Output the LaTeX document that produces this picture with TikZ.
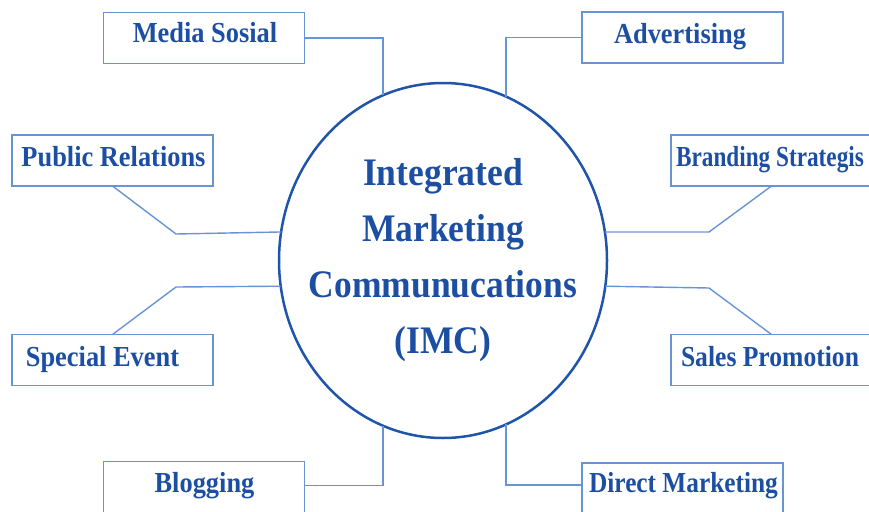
\documentclass[tikz,border=0pt]{standalone}
\usepackage{fontspec}
\setmainfont{Liberation Serif}[FakeStretch=0.91]
\usetikzlibrary{shapes.geometric}

\definecolor{inkblue}{RGB}{28,78,162}
\definecolor{frameblue}{RGB}{104,148,214}
\definecolor{ringblue}{RGB}{30,84,170}

\begin{document}
\begin{tikzpicture}[x=1pt,y=-1pt,
  itembox/.style={draw=frameblue, line width=1.8pt, minimum width=201pt,
    minimum height=51pt, inner sep=0pt, outer sep=0pt},
  itemtext/.style={anchor=base, inner sep=0pt, text=inkblue,
    font=\fontsize{29}{31}\selectfont\bfseries},
  link/.style={draw=frameblue, line width=1.4pt},
]
\useasboundingbox (0,0) rectangle (869,511);
\clip (0,0) rectangle (869,511);

% central ellipse
\node[ellipse, draw=ringblue, line width=2.5pt, minimum width=328pt,
  minimum height=355pt, inner sep=0pt, outer sep=0pt] (imc) at (443,260.5) {};
\node[anchor=base, align=center, inner sep=0pt, text=inkblue,
  font=\fontsize{39}{56}\selectfont\bfseries] (imctxt) at (443,353)
  {Integrated\\Marketing\\Communucations\\(IMC)};

% surrounding boxes
\node[itembox] (ms)  at (204,38)     {};
\node[itembox] (pr)  at (112.5,160.5) {};
\node[itembox] (adv) at (682.5,37.5) {};
\node[itembox] (bs)  at (771.5,160.5) {};
\node[itembox] (se)  at (112.5,360)  {};
\node[itembox] (sp)  at (771.5,360)  {};
\node[itembox] (bl)  at (204,487)    {};
\node[itembox] (dm)  at (682.5,488.5) {};

% box labels
\node[itemtext] (mst)  at (205,42)    {Media Sosial};
\node[itemtext] (prt)  at (113.5,166) {Public Relations};
\node[itemtext] (advt) at (680,44)    {Advertising};
\node[itemtext] (bst)  at (770,166)   {\scalebox{0.88}[1]{Branding Strategis}};
\node[itemtext] (set)  at (102.5,366) {Special Event};
\node[itemtext] (spt)  at (770,366)   {\scalebox{0.97}[1]{Sales Promotion}};
\node[itemtext] (blt)  at (204.5,492) {Blogging};
\node[itemtext] (dmt)  at (683.5,492) {\scalebox{0.96}[1]{Direct Marketing}};

% bend points of the slanted connectors
\coordinate (prk) at (176,234);
\coordinate (bsk) at (709,232);
\coordinate (sek) at (176,287);
\coordinate (spk) at (709,288);

% connectors
\draw[link] (ms.east) -| (imc.110.4);
\draw[link] (adv.west) -| (imc.69);
\draw[link] (pr.south) -- (prk) -- (imc.170.7);
\draw[link] (bs.south) -- (bsk) -- (imc.10);
\draw[link] (se.north) -- (sek) -- (imc.189.3);
\draw[link] (sp.north) -- (spk) -- (imc.-9.6);
\draw[link] ([yshift=1.5pt]bl.east) -| (imc.-110.4);
\draw[link] ([yshift=3.5pt]dm.west) -| (imc.-69);
\end{tikzpicture}
\end{document}
